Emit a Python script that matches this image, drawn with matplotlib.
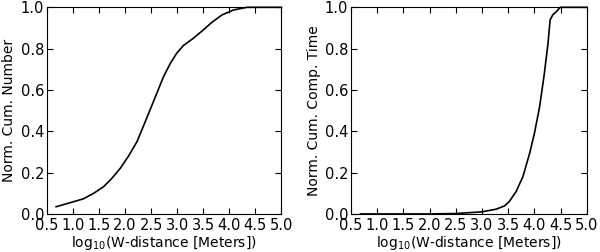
import matplotlib
matplotlib.use("Agg")
import matplotlib.pyplot as plt

# left panel: normalized cumulative number
x_num = [0.68, 1.20, 1.40, 1.59, 1.75, 1.91, 2.07, 2.23, 2.35, 2.48, 2.61, 2.74, 2.87,
         2.99, 3.12, 3.31, 3.50, 3.66, 3.86, 4.08, 4.34, 5.0]
y_num = [0.035, 0.073, 0.10, 0.132, 0.173, 0.221, 0.281, 0.35, 0.423, 0.503, 0.584, 0.665, 0.729,
         0.777, 0.815, 0.85, 0.89, 0.926, 0.963, 0.987, 1.0, 1.0]

# right panel: normalized cumulative computation time
x_time = [0.68, 2.0, 2.5, 2.99, 3.27, 3.43, 3.52, 3.65, 3.78, 3.91, 4.00, 4.10, 4.19,
          4.26, 4.30, 4.35, 4.43, 4.49, 5.0]
y_time = [0.0, 0.0, 0.002, 0.01, 0.023, 0.039, 0.06, 0.108, 0.18, 0.294, 0.39, 0.519, 0.68,
          0.826, 0.939, 0.963, 0.982, 1.0, 1.0]

xticks = [0.5, 1.0, 1.5, 2.0, 2.5, 3.0, 3.5, 4.0, 4.5, 5.0]
yticks = [0.0, 0.2, 0.4, 0.6, 0.8, 1.0]

fig = plt.figure(figsize=(6, 2.52), dpi=100)
ax1 = fig.add_axes([0.078, 0.151, 0.391, 0.82])
ax2 = fig.add_axes([0.585, 0.151, 0.393, 0.82])

for ax, x, y, ylab in [(ax1, x_num, y_num, "Norm. Cum. Number"),
                       (ax2, x_time, y_time, "Norm. Cum. Comp. Time")]:
    ax.plot(x, y, color="black", lw=1.2, clip_on=False)
    ax.set_xlim(0.5, 5.0)
    ax.set_ylim(0.0, 1.0)
    ax.set_xticks(xticks)
    ax.set_yticks(yticks)
    ax.tick_params(direction="in", top=True, right=True, labelsize=10.5, length=4)
    ax.tick_params(axis="x", pad=3)
    ax.tick_params(axis="y", pad=2)
    ax.set_xlabel(r"$\mathregular{log_{10}}$(W-distance [Meters])", fontsize=10, labelpad=0.5)
    ax.set_ylabel(ylab, fontsize=10, labelpad=3)

fig.savefig("out.png", dpi=100)
